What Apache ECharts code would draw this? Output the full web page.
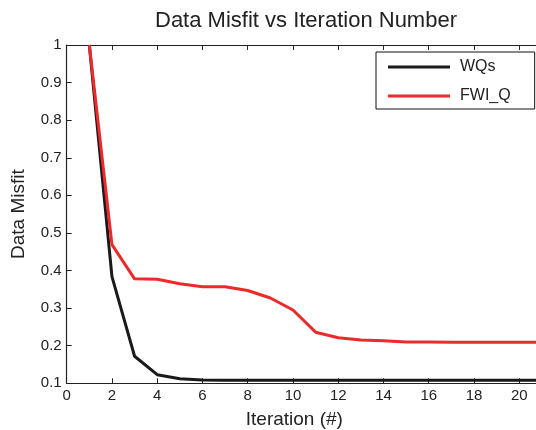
<!DOCTYPE html>
<html>
<head>
<meta charset="utf-8">
<script src="https://cdn.jsdelivr.net/npm/echarts@6/dist/echarts.min.js"></script>
<style>html,body{margin:0;padding:0;background:#fff;}#c{width:536px;height:430px;}</style>
</head>
<body>
<div id="c"></div>
<script>
const iterations = [1,2,3,4,5,6,7,8,9,10,11,12,13,14,15,16,17,18,19,20,21];
const wqs = [1.0,0.384,0.172,0.123,0.112,0.109,0.108,0.108,0.108,0.108,0.108,0.108,0.108,0.108,0.108,0.108,0.108,0.108,0.108,0.108,0.108];
const fwiQ = [1.0,0.469,0.378,0.377,0.365,0.357,0.357,0.347,0.327,0.295,0.236,0.221,0.215,0.213,0.210,0.210,0.209,0.209,0.209,0.209,0.209];
const xTicks = [0,2,4,6,8,10,12,14,16,18,20];
const yTicks = [0.1,0.2,0.3,0.4,0.5,0.6,0.7,0.8,0.9,1];

const font = 'Liberation Sans, Arial, sans-serif';
const axisCol = '#222';
const chart = echarts.init(document.getElementById('c'));
const pair = a => iterations.map((x,i)=>[x,a[i]]);
chart.setOption({
  animation:false,
  backgroundColor:'#fff',
  title:{text:'Data Misfit vs Iteration Number',left:155,top:10,padding:0,
    textStyle:{fontFamily:font,fontSize:22,fontWeight:'normal',color:'#222'}},
  grid:{left:66.7,top:45,right:0,bottom:46.7,containLabel:false,outerBoundsMode:'none'},
  legend:{orient:'vertical',left:376,top:52,padding:[6,24,4,12],itemGap:11,itemWidth:62,itemHeight:3,
    icon:'rect',
    borderColor:'#111',borderWidth:1,backgroundColor:'#fff',
    textStyle:{fontFamily:font,fontSize:16,color:'#222',padding:[0,0,0,5],lineHeight:18},
    data:['WQs','FWI_Q']},
  xAxis:[{type:'value',min:0,max:20.74,interval:2,position:'bottom',
    name:'Iteration (#)',nameLocation:'middle',nameGap:27,
    nameTextStyle:{fontFamily:font,fontSize:19,color:'#222',padding:[0,14,0,0]},
    axisLine:{show:true,onZero:false,lineStyle:{color:axisCol,width:1.2}},
    axisTick:{show:true,inside:true,length:5,lineStyle:{color:axisCol}},
    axisLabel:{fontFamily:font,fontSize:15,color:'#222',margin:5,
      formatter:v=>xTicks.includes(Math.round(v))?String(Math.round(v)):''},
    splitLine:{show:false}},
   {type:'value',min:0,max:20.74,interval:2,position:'top',
    axisLine:{show:true,onZero:false,lineStyle:{color:axisCol,width:1.2}},
    axisTick:{show:true,inside:true,length:5,lineStyle:{color:axisCol}},
    axisLabel:{show:false},splitLine:{show:false}}],
  yAxis:{type:'value',min:0.1,max:1,interval:0.1,
    name:'Data Misfit',nameLocation:'middle',nameGap:38,
    nameTextStyle:{fontFamily:font,fontSize:19,color:'#222'},
    axisLine:{show:true,onZero:false,lineStyle:{color:axisCol,width:1.2}},
    axisTick:{show:true,inside:true,length:5,lineStyle:{color:axisCol}},
    axisLabel:{fontFamily:font,fontSize:15,color:'#222',margin:5,
      formatter:v=>{const r=Math.round(v*10)/10;return yTicks.includes(r)?String(r):'';}},
    splitLine:{show:false}},
  series:[
    {name:'WQs',type:'line',data:pair(wqs),symbol:'none',clip:true,
      lineStyle:{color:'#1a1a1a',width:3},itemStyle:{color:'#1a1a1a'}},
    {name:'FWI_Q',type:'line',data:pair(fwiQ),symbol:'none',clip:true,
      lineStyle:{color:'#ec2a2a',width:3},itemStyle:{color:'#ec2a2a'}}
  ]
});
</script>
</body>
</html>
